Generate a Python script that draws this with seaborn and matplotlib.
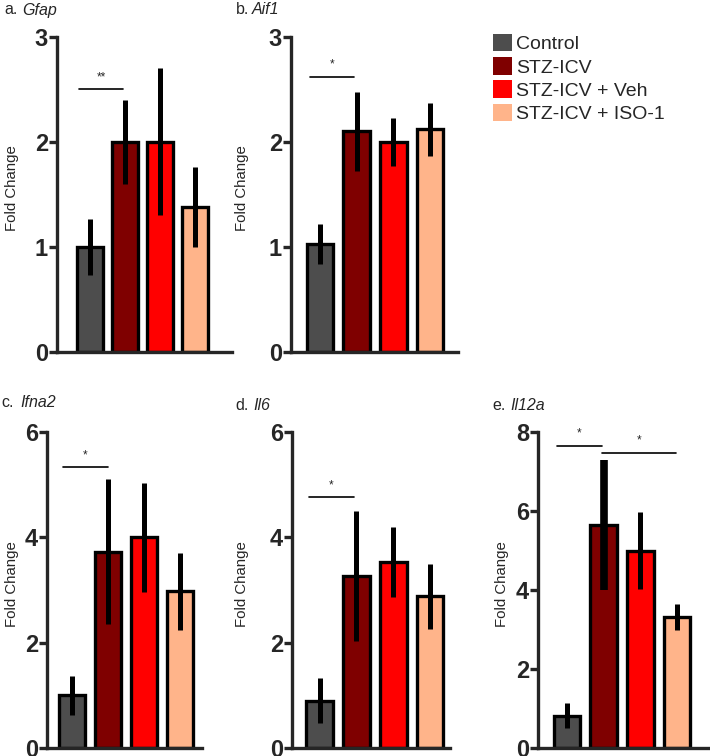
import pandas as pd
import seaborn as sns
import matplotlib.pyplot as plt
from matplotlib.patches import Patch

groups = ['Control', 'STZ-ICV', 'STZ-ICV + Veh', 'STZ-ICV + ISO-1']
colors = ['#4d4d4d', '#7f0000', '#ff0000', '#ffb48a']

genes = ['Gfap', 'Aif1', 'Ifna2', 'Il6', 'Il12a']
letters = ['a.', 'b.', 'c.', 'd.', 'e.']

gfap_mean = [1.0, 2.0, 2.0, 1.38]
gfap_err = [0.27, 0.4, 0.7, 0.38]
aif1_mean = [1.03, 2.1, 2.0, 2.12]
aif1_err = [0.19, 0.38, 0.23, 0.25]
ifna2_mean = [1.0, 3.73, 4.0, 2.98]
ifna2_err = [0.37, 1.38, 1.03, 0.73]
il6_mean = [0.9, 3.27, 3.53, 2.88]
il6_err = [0.42, 1.23, 0.67, 0.62]
il12a_mean = [0.82, 5.65, 5.0, 3.32]
il12a_err = [0.31, 1.65, 0.98, 0.32]

y_max = [3, 3, 6, 6, 8]
y_step = [1, 1, 2, 2, 2]

# significance bars: (x from, x to, height, stars)
sig = {
    'Gfap': [(-0.3, 0.95, 2.5, '**')],
    'Aif1': [(-0.27, 0.93, 2.62, '*')],
    'Ifna2': [(-0.25, 1.0, 5.33, '*')],
    'Il6': [(-0.29, 0.93, 4.76, '*')],
    'Il12a': [(-0.27, 0.95, 7.65, '*'), (0.95, 2.97, 7.47, '*')],
}

means = [gfap_mean, aif1_mean, ifna2_mean, il6_mean, il12a_mean]
errs = [gfap_err, aif1_err, ifna2_err, il6_err, il12a_err]

rows = []
for g, m, e in zip(genes, means, errs):
    for grp, mv, ev in zip(groups, m, e):
        rows.append({'gene': g, 'group': grp, 'fold': mv, 'err': ev})
df = pd.DataFrame(rows)

sns.set_style('ticks')
plt.rcParams['font.family'] = ['Liberation Sans', 'DejaVu Sans']

W, H = 710, 756
fig = plt.figure(figsize=(W / 100, H / 100), dpi=100)

# axes boxes in pixels: left, right, top, bottom ; plus x limits
boxes = [
    (57, 232, 37, 352, (-0.94, 4.06)),
    (291, 458, 37, 352, (-0.79, 3.76)),
    (47, 202, 432, 748, (-0.69, 3.61)),
    (292, 450, 432, 748, (-0.75, 3.54)),
    (538, 710, 432, 748, (-0.79, 3.9)),
]
ylab_right = [19, 249, 19, 249, 509]
title_pos = [(4, 10, 22), (236, 10, 252), (1, 403, 20), (235, 405, 253), (492, 405, 510)]

for i, g in enumerate(genes):
    l, r, t, b, xl = boxes[i]
    ax = fig.add_axes([l / W, 1 - b / H, (r - l) / W, (b - t) / H])
    sub = df[df['gene'] == g]
    sns.barplot(data=sub, x='group', y='fold', hue='group', order=groups,
                hue_order=groups, palette=colors, errorbar=None, width=0.72,
                edgecolor='black', linewidth=2.4, legend=False, ax=ax,
                saturation=1)
    ew = [3.6] * 4
    if g == 'Il12a':
        ew[1] = 5.5
    for k in range(4):
        ax.errorbar(k, sub['fold'].iloc[k], yerr=sub['err'].iloc[k], fmt='none',
                    ecolor='black', elinewidth=ew[k], capsize=0, zorder=5)
    for x0, x1, yy, lab in sig[g]:
        ax.plot([x0, x1], [yy, yy], color='black', lw=1.2, clip_on=False)
        ax.text((x0 + x1) / 2, yy + 0.02 * y_max[i], lab, ha='center', va='bottom',
                fontsize=8.5)
    ax.set_xlim(*xl)
    ax.set_ylim(0, y_max[i])
    ax.set_yticks(range(0, y_max[i] + 1, y_step[i]))
    ax.set_xticks([])
    ax.set_xlabel('')
    ax.set_ylabel('Fold Change', fontsize=10.8)
    ax.yaxis.set_label_coords((ylab_right[i] - l) / (r - l), 0.52)
    for s in ['top', 'right']:
        ax.spines[s].set_visible(False)
    for s in ['left', 'bottom']:
        ax.spines[s].set_linewidth(2.4)
        ax.spines[s].set_zorder(6)
    ax.tick_params(axis='y', length=6, width=2.4, pad=0.5, labelsize=17)
    for lab in ax.get_yticklabels():
        lab.set_fontweight('heavy')

    px, py, gx = title_pos[i]
    fig.text(px / W, 1 - py / H, letters[i], fontsize=11.5, va='center', ha='left')
    fig.text(gx / W, 1 - py / H, g, fontsize=11.5, va='center', ha='left',
             style='italic')

handles = [Patch(facecolor=c, edgecolor='none', label=grp) for c, grp in zip(colors, groups)]
fig.legend(handles=handles, loc='upper left', bbox_to_anchor=(493 / W, 1 - 34 / H),
           frameon=False, fontsize=14, handlelength=1.0, handleheight=1.0,
           handletextpad=0.2, labelspacing=0.2, borderpad=0, borderaxespad=0)

fig.savefig('out.png', dpi=100)
